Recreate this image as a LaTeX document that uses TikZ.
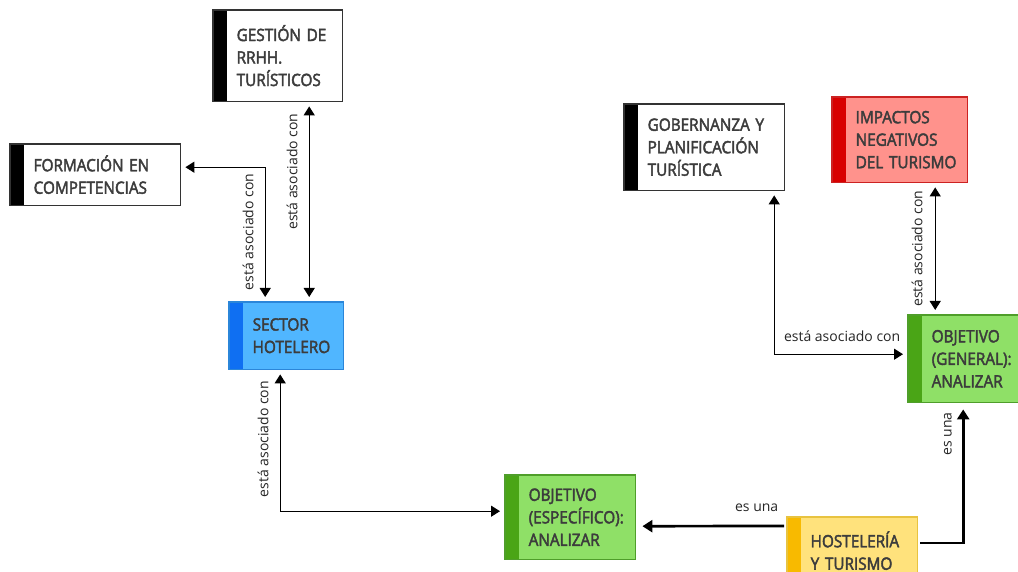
\documentclass[tikz,border=0pt]{standalone}
\usepackage{fontspec}
\setmainfont{Open Sans}
\newfontfamily\boxfont[FakeBold=2.5,FakeStretch=0.9]{Open Sans}
\usepackage{xcolor}
\usepackage{tikz}
\usetikzlibrary{arrows.meta,positioning,calc}

\definecolor{txtgray}{HTML}{3C3C3C}
\definecolor{boxline}{HTML}{333333}
\definecolor{bluefill}{HTML}{50B6FF}
\definecolor{bluebar}{HTML}{0F6FF2}
\definecolor{blueline}{HTML}{2B86D9}
\definecolor{redfill}{HTML}{FF928C}
\definecolor{redbar}{HTML}{D80000}
\definecolor{redline}{HTML}{CC2222}
\definecolor{greenfill}{HTML}{8FE067}
\definecolor{greenbar}{HTML}{4AA516}
\definecolor{greenline}{HTML}{4F9E2A}
\definecolor{yellowfill}{HTML}{FFE27C}
\definecolor{yellowbar}{HTML}{F8BA00}
\definecolor{yellowline}{HTML}{E8C340}

\begin{document}
\begin{tikzpicture}[x=1pt,y=-1pt,
    concept/.style={rectangle, anchor=north west, inner xsep=9.5pt, inner ysep=0pt, align=left, text=txtgray, font=\boxfont\fontsize{17}{22.5}\selectfont},
    link/.style={line width=1.3pt, >={Triangle[width=11pt,length=9pt]}, shorten >=5pt, shorten <=5pt},
    strong/.style={line width=2.7pt, >={Triangle[width=12pt,length=10pt]}, shorten >=7pt, shorten <=3pt},
    rel/.style={anchor=south, inner xsep=0pt, inner ysep=11pt, text=black!85, font=\fontsize{14}{16}\selectfont}]
    \useasboundingbox[fill=white] (0,0) rectangle (1018,572);

    % Left cluster
    \node[concept, fill=white, text width=96pt, minimum height=91pt] (gestion) at (227,10) {GESTIÓN DE\\RRHH.\\TURÍSTICOS};
    \node[concept, fill=white, text width=137pt, minimum height=61pt] (formacion) at (24,144) {FORMACIÓN EN\\COMPETENCIAS};
    \node[concept, fill=bluefill, text width=81pt, minimum height=67pt] (sector) at (243,302) {SECTOR\\HOTELERO};

    % Right cluster
    \node[concept, fill=white, text width=127pt, minimum height=86pt] (gobernanza) at (638,104) {GOBERNANZA~Y\\PLANIFICACIÓN\\TURÍSTICA};
    \node[concept, fill=redfill, text width=102pt, minimum height=85pt] (impactos) at (846,97) {IMPACTOS\\NEGATIVOS\\DEL~TURISMO};
    \node[concept, fill=greenfill, text width=79pt, minimum height=87pt] (general) at (922,315) {OBJETIVO\\(GENERAL):\\ANALIZAR};

    % Bottom row
    \node[concept, fill=greenfill, text width=97pt, minimum height=84pt] (especifico) at (519,475) {OBJETIVO\\(ESPECÍFICO):\\ANALIZAR};
    \node[concept, fill=yellowfill, text width=97pt, minimum height=67pt] (hosteleria) at (801,517) {HOSTELERÍA\\Y~TURISMO};

    % Side stripes and outlines
    \foreach \n/\stripe/\rim in {gestion/black/boxline, formacion/black/boxline, sector/bluebar/blueline,
        gobernanza/black/boxline, impactos/redbar/redline, general/greenbar/greenline,
        especifico/greenbar/greenline, hosteleria/yellowbar/yellowline}{
        \fill[\stripe] ([xshift=-14pt]\n.north west) rectangle (\n.south west);
        \draw[\rim, line width=1.3pt] ([xshift=-14pt]\n.north west) rectangle (\n.south east);
    }

    % está asociado con
    \draw[link, <->] ([xshift=24.5pt]gestion.south) -- ([xshift=16pt]sector.north)
        node[rel, rotate=90, pos=0.35] {está asociado con};
    \draw[link, <->] ([xshift=-28pt]sector.north) |- ([yshift=7.5pt]formacion.east)
        node[rel, rotate=90, pos=0.26] {está asociado con};
    \draw[link, <->] ([xshift=-13pt]sector.south) |- ([xshift=-14pt,yshift=6pt]especifico.west)
        node[rel, rotate=90, pos=0.246] {está asociado con};
    \draw[link, <->] ([xshift=63pt]gobernanza.south) |- ([xshift=-14pt,yshift=4.5pt]general.west)
        node[rel, inner ysep=12pt, pos=0.754] {está asociado con};
    \draw[link, <->] ([xshift=28.5pt]impactos.south) -- ([xshift=-36pt]general.north)
        node[rel, rotate=90, inner ysep=12pt, pos=0.5] {está asociado con};

    % es una
    \draw[strong, ->] ([xshift=-14pt,yshift=-9pt]hosteleria.north west) -- ([yshift=-9pt]especifico.east)
        node[rel, inner ysep=13pt, pos=0.2] {es una};
    \draw[strong, ->] ([yshift=-26pt]hosteleria.north east) -| ([xshift=-8pt]general.south)
        node[rel, rotate=90, inner ysep=10pt, pos=0.887] {es una};
\end{tikzpicture}
\end{document}
